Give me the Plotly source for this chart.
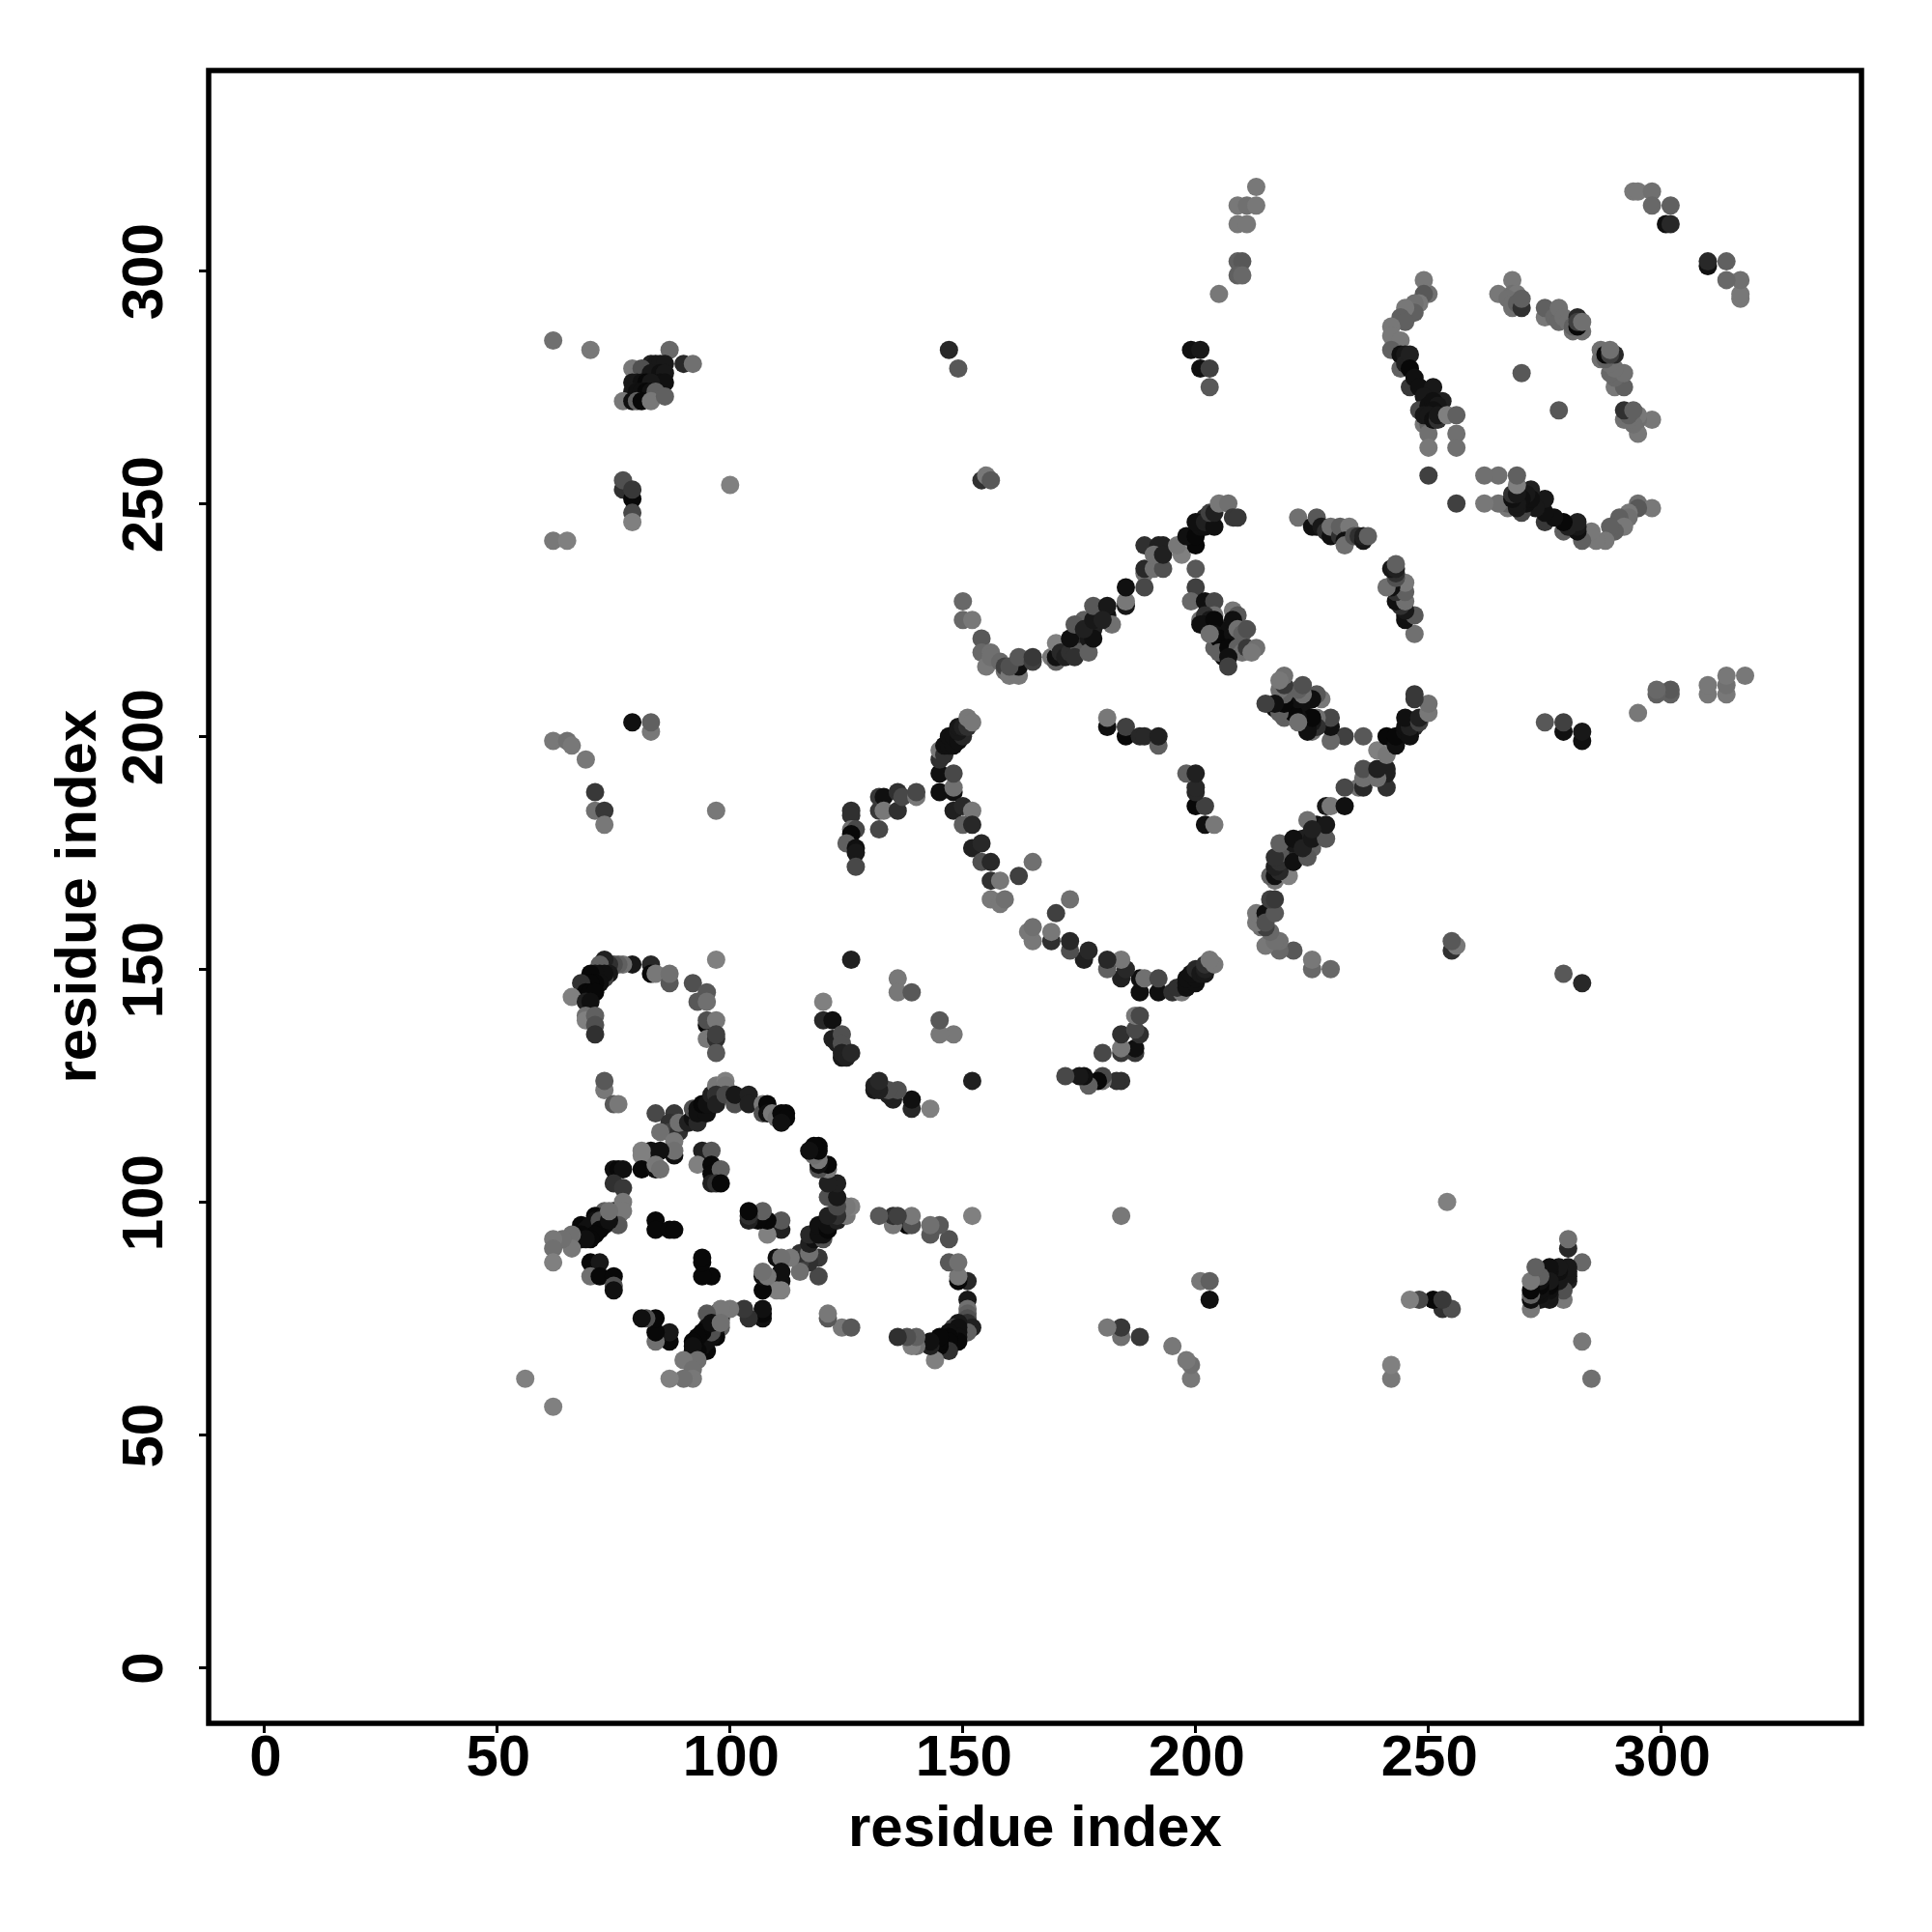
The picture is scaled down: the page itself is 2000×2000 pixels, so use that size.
import plotly.graph_objects as go

# Contacts above the diagonal as (residue i, residue j, grey level); the map is symmetric.
arc_a = [(97,152,0x80),(83,151,0x28),(79,151,0x18),(77,151,0x70),(76,151,0x60),(75,151,0x50),(74,151,0x30),(73,152,0x20),(72,151,0x60),
         (74,149,0x18),(73,148,0x40),(72,149,0x10),(73,149,0x10),(71,149,0x10),(70,149,0x08),(72,147,0x10),(71,147,0x08),(70,147,0x08),(68,147,0x30),(69,145,0x08),(70,145,0x08),(71,145,0x08),
         (66,144,0x80),(69,143,0x20),(70,143,0x10),(69,140,0x70),(69,139,0x80),(71,140,0x60),(71,138,0x50),(71,136,0x30),
         (83,149,0x08),(84,149,0x78),(87,147,0x58),(87,149,0x70),(92,147,0x50),(93,143,0x58),(95,145,0x58),
         (95,143,0x70),(95,138,0x08),(95,139,0x50),(97,139,0x78),(95,135,0x78),(97,135,0x30),(97,136,0x40),(97,132,0x58)]

lobe_top = [(73,124,0x78),(73,126,0x58),(75,121,0x58),(76,121,0x78),(84,119,0x48),(88,119,0x38),(87,117,0x30),
            (87,115,0x40),(89,115,0x30),(89,117,0x70),(85,115,0x70),(88,110,0x10),(88,113,0x78),(88,111,0x70),
            (83,111,0x10),(85,111,0x10),(81,111,0x80),(81,110,0x80),(81,107,0x08),(84,107,0x10),(84,108,0x78),(85,107,0x70)]

lobe_left = [(75,107,0x10),(76,107,0x08),(77,107,0x10),(75,104,0x30),(77,103,0x38),(75,98,0x08),(75,97,0x10),
             (76,97,0x40),(77,100,0x78),(77,98,0x78),(76,95,0x58),(73,98,0x60),(71,97,0x08),(73,97,0x10),
             (73,95,0x10),(71,95,0x08),(71,96,0x10),(68,95,0x08),(69,94,0x10),(70,95,0x10),(72,96,0x50),
             (72,94,0x08),(74,96,0x10),(74,98,0x70),(71,93,0x08),(70,92,0x08),(68,92,0x08),(68,93,0x08),
             (69,92,0x10),(66,93,0x70),(66,90,0x78),(64,92,0x70),(62,92,0x78),(62,90,0x70),(62,87,0x80),
             (70,87,0x08),(72,87,0x18),(70,84,0x70),(72,84,0x08),(75,84,0x08),(75,82,0x50),(75,81,0x10)]

lobe_inner = [(84,96,0x08),(84,94,0x08),(87,94,0x08),(88,94,0x08),(94,111,0x20),(96,111,0x58),(93,108,0x80),
              (96,108,0x08),(96,106,0x08),(98,107,0x60),(96,104,0x20),(97,104,0x30),(98,104,0x08)]

lobe_arc = [(91,117,0x20),(92,118,0x10),(92,120,0x50),(93,120,0x10),(93,117,0x28),(93,119,0x10),(95,119,0x10),
            (94,121,0x08),(95,121,0x10),(96,123,0x20),(97,125,0x78),(99,126,0x80),(99,125,0x78),(97,123,0x30),
            (97,121,0x20),(99,123,0x48),(101,121,0x50),(101,123,0x18),(104,123,0x20),(104,121,0x20),(107,121,0x78),
            (107,119,0x50),(108,121,0x08),(108,119,0x10),(109,119,0x78),(110,118,0x70),(112,119,0x08),(111,119,0x08),
            (112,118,0x08),(111,117,0x10)]

pocket = [(126,152,0x20),(120,143,0x80),(120,139,0x28),(122,139,0x10),(122,135,0x20),(123,134,0x20),(124,131,0x18),
          (124,136,0x50),(124,134,0x50),(124,132,0x20),(125,131,0x20),(126,132,0x28),(136,148,0x78),(136,145,0x78),(139,145,0x58)]

arc_b = [(126,184,0x30),(126,183,0x30),(126,180,0x70),(127,180,0x48),(126,179,0x08),(125,177,0x60),(127,176,0x10),
         (127,175,0x18),(127,172,0x48),(132,180,0x48),(132,184,0x38),(132,187,0x38),(133,187,0x10),(133,184,0x78),
         (136,184,0x30),(136,188,0x30),(137,187,0x48),(140,187,0x78),(140,188,0x48),(145,188,0x10),(145,192,0x10),
         (148,188,0x10),(148,189,0x70),(148,192,0x48),(145,195,0x30),(145,197,0x78),(146,196,0x30),(146,198,0x10),(147,198,0x10),(147,200,0x10),
         (148,198,0x10),(148,200,0x10),(149,199,0x10),(150,200,0x28),(149,201,0x18),(149,202,0x18),(150,202,0x20),(151,202,0x30),(151,204,0x78),(152,203,0x78),
         (148,184,0x20),(150,185,0x28),(152,184,0x78),(150,181,0x60),(152,181,0x28),(152,176,0x20),(154,177,0x28),
         (154,173,0x50),(156,173,0x28),(156,169,0x30),(158,169,0x78),(162,170,0x40),(165,173,0x70),(156,165,0x78),
         (158,164,0x78),(159,165,0x70)]

arc_c = [(150,229,0x68),(150,225,0x68),(152,225,0x78),(154,221,0x58),(154,218,0x68),(156,218,0x70),(155,215,0x78),
         (156,217,0x70),(158,216,0x68),(159,214,0x70),(159,215,0x40),(160,213,0x78),(162,213,0x78),(161,215,0x70),
         (162,215,0x10),(160,215,0x50),(162,217,0x58),(165,216,0x40),(165,217,0x38),(169,217,0x78),(170,216,0x60),
         (170,217,0x10),(170,220,0x80),(171,218,0x28),(172,217,0x20),(173,218,0x30),(175,219,0x58),(175,222,0x30),(177,221,0x18),
         (176,225,0x60),(178,223,0x20),(180,226,0x30),(181,226,0x10),(174,217,0x30),(173,221,0x10),(174,224,0x58),(177,218,0x60),(178,221,0x10),
         (176,223,0x20),(178,225,0x18),(178,228,0x58),(181,228,0x18),(182,224,0x70),(180,225,0x20),(185,228,0x18),
         (185,229,0x78),(185,232,0x10),(189,235,0x70),(189,236,0x28),(189,232,0x48),(191,236,0x70),(193,236,0x50),
         (189,241,0x30),(192,241,0x20),(193,241,0x20),(191,239,0x70),(193,239,0x20),(197,239,0x80),(196,241,0x78),
         (200,241,0x08),(198,243,0x10),(200,243,0x08),(201,245,0x10),(202,245,0x10),(202,247,0x28),(200,246,0x10),
         (202,246,0x20),(204,245,0x10),(203,248,0x40),(204,248,0x20),(205,250,0x78),(207,250,0x70),(208,247,0x38),(209,247,0x38)]

patch_d = [(200,236,0x58),(200,232,0x40),(199,229,0x68),(202,229,0x10),(204,229,0x48),(201,225,0x70),(204,226,0x70),
           (202,226,0x30),(203,225,0x18),(202,224,0x10),(206,223,0x60),(205,223,0x10),(206,220,0x10),(204,219,0x60),(206,217,0x10),
           (201,224,0x10),(204,225,0x08),(204,222,0x10),(205,221,0x08),(203,222,0x70),(208,227,0x78),(209,226,0x58),
           (208,225,0x10),(208,222,0x10),(209,223,0x70),(210,222,0x60),(211,223,0x50),(205,218,0x60),(207,219,0x08),(209,219,0x60),
           (210,218,0x70),(211,219,0x38),(213,219,0x70),(212,218,0x78),(207,217,0x10),(207,215,0x40)]

patch_e = [(222,247,0x70),(225,245,0x10),(226,245,0x10),(226,247,0x58),(227,245,0x18),(228,244,0x30),(229,243,0x10),(229,245,0x70),
           (231,243,0x30),(231,245,0x60),(233,243,0x40),(233,245,0x78),(232,242,0x10),(232,241,0x70),(234,243,0x50),(235,243,0x30),(236,242,0x18),(236,243,0x20),(237,243,0x60)]

patch_f = [(181,202,0x10),(181,204,0x78),(185,200,0x08),(185,202,0x40),(188,200,0x28),(189,200,0x28),(192,198,0x60),(192,200,0x20)]

arc_g = [(250,295,0x70),(249,298,0x78),(249,295,0x58),(248,293,0x78),(247,293,0x70),(247,291,0x60),(245,292,0x78),
         (244,290,0x60),(245,289,0x60),(242,288,0x78),(242,286,0x78),(244,285,0x78),(242,283,0x60),(244,279,0x60),
         (244,282,0x10),(245,282,0x18),(245,280,0x20),(246,282,0x20),(246,279,0x08),(246,275,0x38),(247,277,0x10),(248,275,0x10),(251,275,0x18),(249,273,0x18),(248,270,0x48),
         (250,271,0x10),(253,272,0x20),(251,272,0x10),(252,271,0x18),(251,270,0x10),(249,267,0x78),(250,267,0x60),(250,265,0x70),(249,269,0x18),(250,269,0x18),
         (251,268,0x10),(252,268,0x30),(252,269,0x18),(254,269,0x80),(256,269,0x60),(256,265,0x70),(250,262,0x78),(256,262,0x70),(250,256,0x40)]

arc_h = [(268,298,0x78),(265,295,0x78),(268,295,0x70),(269,295,0x78),(268,292,0x70),(267,294,0x70),(268,293,0x70),(269,293,0x60),(270,292,0x30),(270,294,0x60),
         (275,290,0x78),(275,292,0x60),(277,290,0x68),(278,289,0x68),(278,292,0x70),(279,290,0x70),(280,289,0x70),(281,287,0x70),(281,288,0x60),(283,287,0x70),(282,288,0x08),(282,290,0x28),
         (282,289,0x40),(283,289,0x70),(270,278,0x58)]

corner = [(62,285,0x70),(70,283,0x78),(87,283,0x68),(83,280,0x20),(84,280,0x18),(85,280,0x18),(86,280,0x18),(90,280,0x28),(92,280,0x70),
          (79,279,0x78),(81,279,0x50),(83,278,0x18),(85,278,0x10),(86,278,0x18),(79,276,0x18),(80,276,0x18),(81,276,0x10),(85,276,0x10),(86,276,0x10),(82,276,0x08),(83,276,0x18),
          (79,274,0x18),(80,274,0x10),(81,274,0x10),(82,274,0x08),(83,274,0x10),(84,274,0x60),(77,272,0x78),(79,272,0x10),
          (80,272,0x60),(81,272,0x08),(83,272,0x78),(86,273,0x60),(77,253,0x30),(77,255,0x50),(79,251,0x08),
          (79,253,0x38),(79,248,0x48),(79,246,0x80),(100,254,0x80)]

isolated = [(62,242,0x78),(65,242,0x80),(147,283,0x28),(149,279,0x58),(154,255,0x30),(155,256,0x78),(156,255,0x58),
            (199,283,0x10),(201,283,0x18),(201,279,0x10),(203,279,0x40),(203,275,0x58),(205,295,0x78),(209,310,0x78),
            (211,310,0x78),(209,314,0x78),(211,314,0x70),(213,314,0x78),(213,318,0x78),(209,302,0x60),(210,302,0x58),
            (209,299,0x60),(210,299,0x68),(294,317,0x78),(295,317,0x78),(298,317,0x70),(298,314,0x68),(302,314,0x60),
            (301,310,0x10),(302,310,0x28),(62,199,0x78),(65,199,0x70),(66,198,0x78),(69,195,0x78),(71,188,0x38),(71,184,0x70),
            (73,184,0x38),(73,181,0x78),(79,203,0x10),(83,201,0x78),(83,203,0x60),(97,184,0x78),(62,56,0x80)]

tick_values = [0, 50, 100, 150, 200, 250, 300]
tick_labels = ["0", "50", "100", "150", "200", "250", "300"]
axis_title = "residue index"

contacts = (arc_a + lobe_top + lobe_left + lobe_inner + lobe_arc + pocket + arc_b + arc_c + patch_d
            + patch_e + patch_f + arc_g + arc_h + corner + isolated)
res_i = [c[0] for c in contacts]
res_j = [c[1] for c in contacts]
grey = [f"rgb({c[2]},{c[2]},{c[2]})" for c in contacts]

font = dict(family="Liberation Sans", size=60, color="black", weight=700)

fig = go.Figure(go.Scatter(
    x=res_i + res_j, y=res_j + res_i, mode="markers",
    marker=dict(size=19, color=grey + grey, line=dict(width=0)),
    showlegend=False,
))

common = dict(tickmode="array", tickvals=tick_values, ticktext=tick_labels, ticks="outside", ticklen=9,
              tickwidth=3, tickcolor="black", tickfont=font, showgrid=False, zeroline=False, showline=False)
fig.update_xaxes(range=[-12, 343], ticklabelstandoff=-28, ticklabelshift=1, **common)
fig.update_yaxes(range=[-12, 343], tickangle=-90, ticklabelstandoff=14, ticklabelshift=10, **common)
fig.update_layout(
    width=2000, height=2000, autosize=False, plot_bgcolor="white", paper_bgcolor="white",
    margin=dict(l=208, r=81, t=65, b=224, autoexpand=False),
    shapes=[dict(type="rect", xref="paper", yref="paper", x0=0, x1=1, y0=0, y1=1,
                 line=dict(color="black", width=5.5), layer="above")],
    annotations=[
        dict(text=axis_title, font=font, showarrow=False, xref="paper", yref="paper", x=0.5, y=0,
             xanchor="center", yanchor="middle", yshift=-106),
        dict(text=axis_title, font=font, showarrow=False, xref="paper", yref="paper", x=0, y=0.5,
             xanchor="center", yanchor="middle", xshift=-138, textangle=-90),
    ],
)
fig.write_html("out.html")
